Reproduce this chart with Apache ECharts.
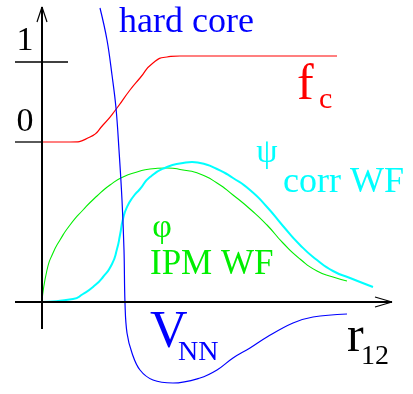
<!DOCTYPE html>
<html>
<head>
<meta charset="utf-8">
<script src="https://cdn.jsdelivr.net/npm/echarts@6/dist/echarts.min.js"></script>
<style>
  html, body { margin: 0; padding: 0; background: #fff; }
  #chart { width: 413px; height: 394px; }
</style>
</head>
<body>
<div id="chart"></div>
<script>
// Schematic of the two-nucleon problem against the pair distance r12.
// Units are arbitrary; the origin is where the two axes cross.

// correlation function f_c: 0 near the origin, rising to 1
const fcCurve = [[0,160],[28,160],[48,165],[61,177],[75,194],[88,212],[98,224],[111,239],[125,245],[138,246],[148,246],[295,246]];

// NN potential V_NN: hard-core repulsion, then an attractive well
const vnnCurve = [[58,294],[65,262],[70,227],[74,194],[77,152],[80,102],[82,52],[83,-1],[85,-31],[90,-51],[98,-68],[111,-78],[131,-81],[158,-76],[175,-68],[191,-56],[208,-46],[225,-35],[251,-21],[271,-15],[305,-12]];

// uncorrelated IPM wave function φ
const ipmCurve = [[0,0],[5,32],[11,49],[18,62],[28,77],[41,92],[55,106],[68,117],[81,125],[95,130],[108,133],[125,134],[141,132],[158,128],[175,119],[191,107],[208,93],[225,77],[241,59],[258,43],[275,31],[291,25],[305,21]];

// correlated wave function ψ
const corrCurve = [[0,0],[31,3],[41,8],[51,15],[61,25],[70,38],[75,53],[78,67],[81,83],[85,95],[91,105],[98,113],[108,125],[125,135],[141,139],[150,140],[158,139],[175,133],[191,124],[208,112],[225,95],[241,76],[258,57],[275,42],[291,31],[308,24],[331,15]];

// axes, arrow heads and the level marks for f_c = 0 and f_c = 1
const xAxisLine = [[-27,0],[350,0]];
const yAxisLine = [[0,-27],[0,295]];
const xArrow = [[333,5],[350,0],[333,-5]];
const yArrow = [[-5,280],[0,295],[5,280]];
const levelOne = [[-27,240],[26,240]];
const levelZero = [[-27,160],[0,160]];

const SERIF = '"Liberation Serif", "Times New Roman", "DejaVu Serif", serif';
const BLUE = '#0000ff', RED = '#ff0000', GREEN = '#00ee00', CYAN = '#00ffff';

function curve(data, color, width, smooth) {
  return { type: 'line', data, smooth, symbol: 'none', silent: true, clip: false,
           lineStyle: { color, width } };
}
function stroke(data, width) {
  return { type: 'line', data, smooth: false, symbol: 'none', silent: true, clip: false,
           lineStyle: { color: '#000', width } };
}
function label(text, x, y, size, color, align) {
  return { type: 'text', x, y, silent: true,
           style: { text, fill: color, font: size + 'px ' + SERIF,
                    align: align || 'left', verticalAlign: 'middle' } };
}

const chart = echarts.init(document.getElementById('chart'), null, { renderer: 'canvas' });
chart.setOption({
  animation: false,
  backgroundColor: '#fff',
  grid: { left: 0, right: 0, top: 0, bottom: 0 },
  xAxis: { type: 'value', min: -42, max: 371, show: false },
  yAxis: { type: 'value', min: -92, max: 302, show: false },
  series: [
    curve(fcCurve, RED, 1.2, 0.6),
    curve(ipmCurve, GREEN, 1.1, 0.6),
    curve(corrCurve, CYAN, 2, 0.6),
    curve(vnnCurve, BLUE, 1.2, 0.4),
    stroke(levelOne, 1.3),
    stroke(levelZero, 1.3),
    stroke(xAxisLine, 2),
    stroke(yAxisLine, 2),
    stroke(xArrow, 1.2),
    stroke(yArrow, 1.2)
  ],
  graphic: [
    label('1', 25, 41, 34, '#000', 'center'),
    label('0', 25, 122, 34, '#000', 'center'),
    label('hard core', 119, 23, 36, BLUE),
    label('f', 297, 86, 50, RED),
    label('c', 319, 100, 30, RED),
    label('ψ', 267, 153, 34, CYAN, 'center'),
    label('corr WF', 283, 183, 36, CYAN),
    label('φ', 162, 228, 34, GREEN, 'center'),
    label('IPM WF', 150, 265, 35, GREEN),
    label('V', 150, 333, 52, BLUE),
    label('NN', 178, 353, 28, BLUE),
    label('r', 347, 338, 50, '#000'),
    label('12', 361, 357, 28, '#000')
  ]
});
</script>
</body>
</html>
